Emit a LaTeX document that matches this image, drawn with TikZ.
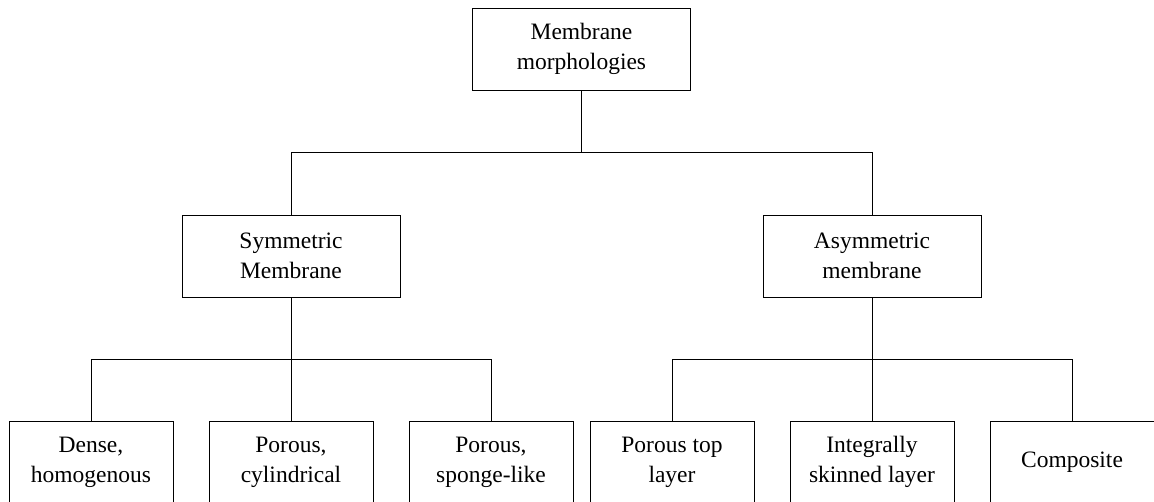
\documentclass[tikz,border=0pt]{standalone}
\usepackage{fontspec}
\setmainfont{Liberation Serif}
\usetikzlibrary{positioning}

\tikzset{
  box/.style={draw, line width=0.8pt, inner sep=0pt, align=center,
    minimum height=82pt, font=\fontsize{23.5pt}{30pt}\selectfont},
  wide/.style={box, minimum width=218pt},
  narrow/.style={box, minimum width=164pt},
  link/.style={line width=0.8pt}
}

\begin{document}
\begin{tikzpicture}[on grid]
   \clip (0,0) rectangle (1154pt,-501pt);

   % top level
   \node[wide] (root) at (581.5pt,-49pt) {Membrane\\morphologies};

   % second level
   \node[wide] (sym) [below left=207pt and 290.5pt of root] {Symmetric\\Membrane};
   \node[wide] (asym) [below right=207pt and 290.5pt of root] {Asymmetric\\membrane};

   % third level, left
   \node[narrow] (cyl) [below=206pt of sym] {Porous,\\cylindrical};
   \node[narrow] (dense) [left=200pt of cyl] {Dense,\\homogenous};
   \node[narrow] (sponge) [right=200pt of cyl] {Porous,\\sponge-like};

   % third level, right
   \node[narrow] (integ) [below=206pt of asym] {Integrally\\skinned layer};
   \node[narrow] (toplayer) [left=200pt of integ] {Porous top\\layer};
   \node[narrow] (comp) [right=200pt of integ] {Composite};

   % connectors
   \draw[link] (root.south) -- ++(0,-62pt) coordinate (j0);
   \draw[link] (j0) -| (sym.north);
   \draw[link] (j0) -| (asym.north);

   \draw[link] (sym.south) -- ++(0,-62pt) coordinate (j1);
   \draw[link] (j1) -| (dense.north);
   \draw[link] (j1) -- (cyl.north);
   \draw[link] (j1) -| (sponge.north);

   \draw[link] (asym.south) -- ++(0,-62pt) coordinate (j2);
   \draw[link] (j2) -| (toplayer.north);
   \draw[link] (j2) -- (integ.north);
   \draw[link] (j2) -| (comp.north);
\end{tikzpicture}
\end{document}
